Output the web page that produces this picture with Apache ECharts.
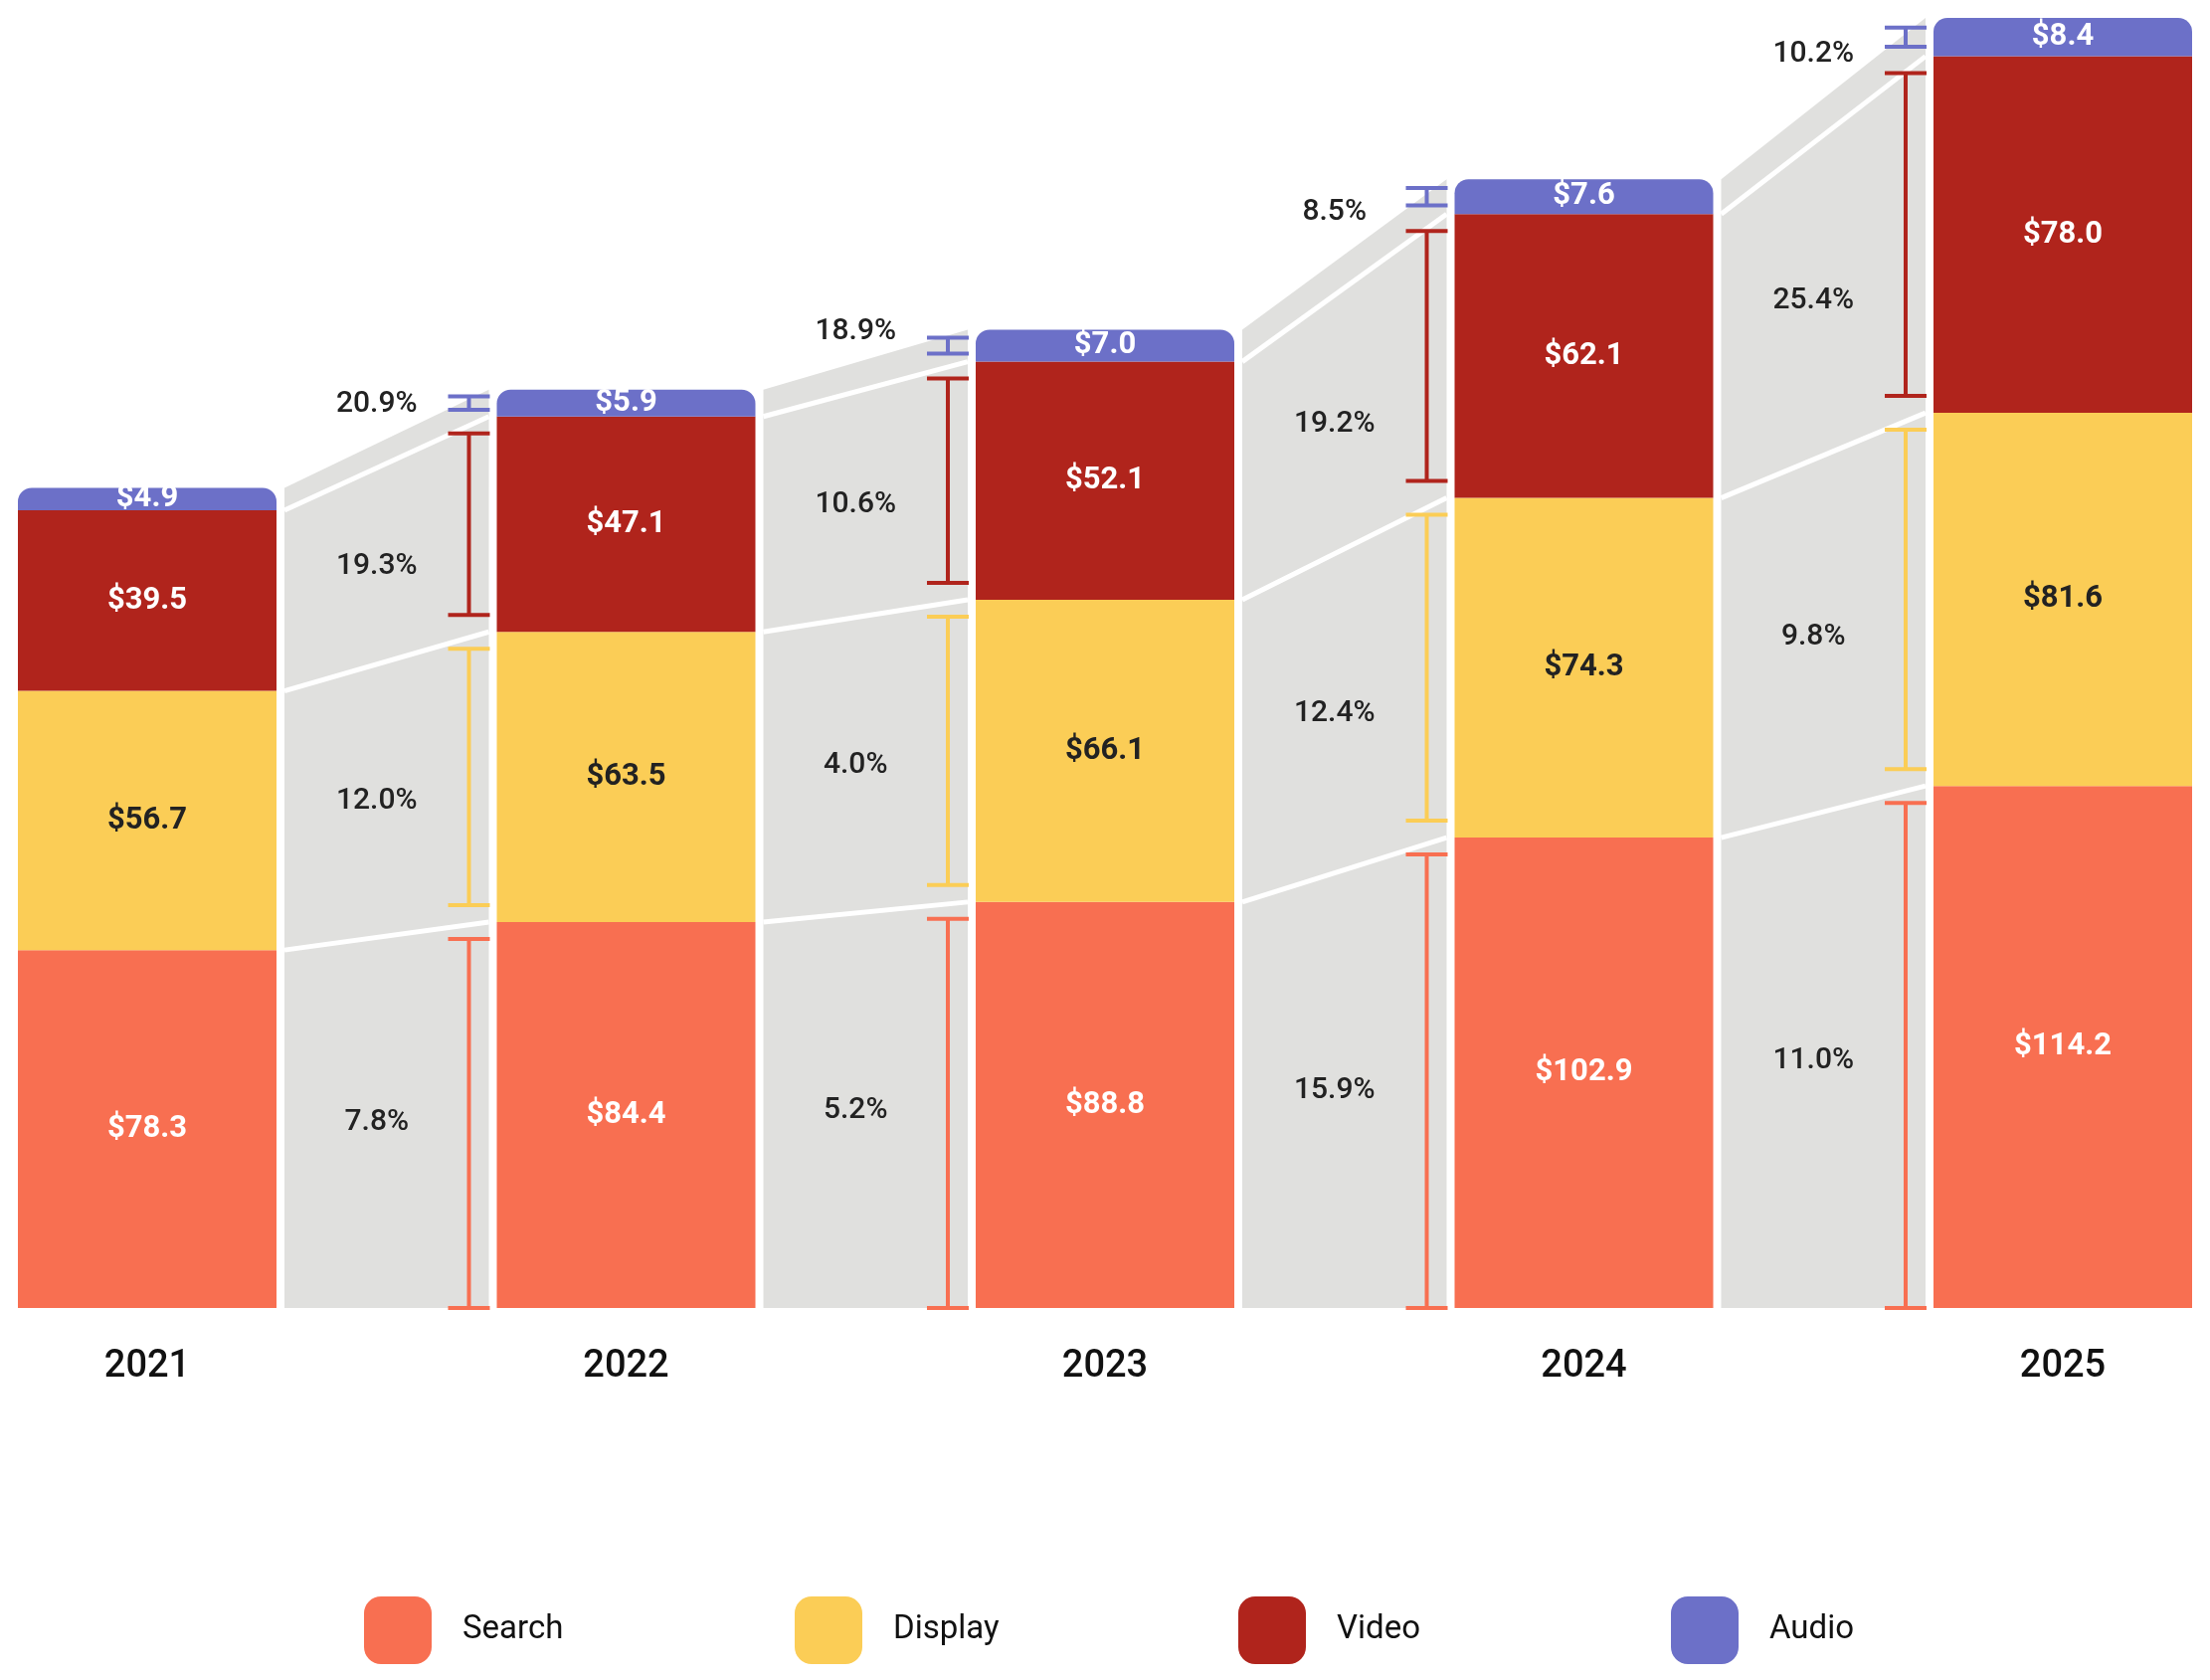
<!DOCTYPE html>
<html>
<head>
<meta charset="utf-8">
<script src="https://cdn.jsdelivr.net/npm/echarts@6/dist/echarts.min.js"></script>
<style>html,body{margin:0;padding:0;background:#fff;}#main{width:2222px;height:1689px;}</style>
</head>
<body>
<div id="main"></div>
<script>
// data
var years = ['2021', '2022', '2023', '2024', '2025'];
var names = ['Search', 'Display', 'Video', 'Audio'];
var search = [78.3, 84.4, 88.8, 102.9, 114.2];
var display = [56.7, 63.5, 66.1, 74.3, 81.6];
var video = [39.5, 47.1, 52.1, 62.1, 78.0];
var audio = [4.9, 5.9, 7.0, 7.6, 8.4];
var growthSearch = [7.8, 5.2, 15.9, 11.0];
var growthDisplay = [12.0, 4.0, 12.4, 9.8];
var growthVideo = [19.3, 10.6, 19.2, 25.4];
var growthAudio = [20.9, 18.9, 8.5, 10.2];

var colors = ['#f86f51', '#fbcd56', '#b0241c', '#6c70c8'];
var labelColors = ['#fff', '#222', '#fff', '#fff'];
var layers = [search, display, video, audio];
var growth = [growthSearch, growthDisplay, growthVideo, growthAudio];
var HALF = 0.27;

function base(layer, i) {
  var s = 0;
  for (var k = 0; k < layer; k++) s += layers[k][i];
  return s;
}

var chart = echarts.init(document.getElementById('main'));

// stacked bars drawn as custom rects
function barSeries(layer) {
  return {
    name: names[layer],
    type: 'custom',
    z: 3,
    itemStyle: { color: colors[layer] },
    data: layers[layer].map(function (v, i) { return [i, v]; }),
    renderItem: function (params, api) {
      var i = api.value(0);
      var b = base(layer, i);
      var p0 = api.coord([i - HALF, b]);
      var p1 = api.coord([i + HALF, b + api.value(1)]);
      var r = layer === 3 ? [14, 14, 0, 0] : 0;
      return {
        type: 'group',
        children: [{
          type: 'rect',
          shape: { x: p0[0], y: p1[1], width: p1[0] - p0[0], height: p0[1] - p1[1], r: r },
          style: { fill: colors[layer] }
        }, {
          type: 'text',
          style: {
            x: (p0[0] + p1[0]) / 2, y: (p0[1] + p1[1]) / 2,
            text: '$' + api.value(1).toFixed(1),
            fill: labelColors[layer], font: 'bold 31px Roboto',
            align: 'center', verticalAlign: 'middle'
          }
        }]
      };
    }
  };
}

// grey connectors, white boundary lines, growth brackets and labels
var connector = {
  type: 'custom',
  z: 1,
  silent: true,
  data: [0, 1, 2, 3],
  renderItem: function (params, api) {
    var i = api.value(0);
    var xl = api.coord([i + HALF, 0])[0] + 8;
    var xr = api.coord([i + 1 - HALF, 0])[0] - 8;
    var y0 = api.coord([0, 0])[1];
    var yAt = function (v) { return api.coord([0, v])[1]; };
    var children = [{
      type: 'polygon',
      shape: { points: [[xl, y0], [xl, yAt(base(4, i))], [xr, yAt(base(4, i + 1))], [xr, y0]] },
      style: { fill: '#e0e0de' }
    }];
    for (var k = 1; k < 4; k++) {
      children.push({
        type: 'line',
        shape: { x1: xl, y1: yAt(base(k, i)), x2: xr, y2: yAt(base(k, i + 1)) },
        style: { stroke: '#fff', lineWidth: 5 }
      });
    }
    var bx = api.coord([i + 1 - HALF, 0])[0] - 28;
    var lx = (xl + bx) / 2;
    for (var k = 0; k < 4; k++) {
      var yb = yAt(base(k, i + 1));
      var yt = yAt(base(k + 1, i + 1));
      var inset = Math.min(17, (yb - yt) * 0.25);
      var b1 = k === 0 ? yb : yb - inset;
      var t1 = yt + inset;
      var st = { stroke: colors[k], lineWidth: 4 };
      children.push(
        { type: 'line', shape: { x1: bx, y1: b1, x2: bx, y2: t1 }, style: st },
        { type: 'line', shape: { x1: bx - 21, y1: b1, x2: bx + 21, y2: b1 }, style: st },
        { type: 'line', shape: { x1: bx - 21, y1: t1, x2: bx + 21, y2: t1 }, style: st }
      );
      var ly, va;
      var f = (lx - xl) / (xr - xl);
      if (k < 3) {
        var lo = k === 0 ? y0 : yAt(base(k, i)) * (1 - f) + yAt(base(k, i + 1)) * f;
        var hi = yAt(base(k + 1, i)) * (1 - f) + yAt(base(k + 1, i + 1)) * f;
        ly = (lo + hi) / 2; va = 'middle';
      } else {
        var f2 = (lx + 42 - xl) / (xr - xl);
        ly = yAt(base(4, i)) * (1 - f2) + yAt(base(4, i + 1)) * f2 - 4; va = 'bottom';
      }
      children.push({
        type: 'text',
        style: {
          x: lx, y: ly, text: growth[k][i].toFixed(1) + '%',
          fill: '#222', font: '500 30px Roboto', align: 'center', verticalAlign: va
        }
      });
    }
    return { type: 'group', children: children };
  }
};

var legendLeft = [361, 794, 1240, 1675];
var option = {
  backgroundColor: '#fff',
  animation: false,
  grid: { left: 18, right: 18, top: 18, bottom: 374 },
  xAxis: {
    type: 'value', min: -HALF, max: 4 + HALF,
    axisLine: { show: false }, axisTick: { show: false }, splitLine: { show: false },
    axisLabel: {
      customValues: [0, 1, 2, 3, 4],
      formatter: function (v) { return years[Math.round(v)]; },
      margin: 40, color: '#111', fontSize: 38, fontWeight: 500, fontFamily: 'Roboto'
    }
  },
  yAxis: { type: 'value', min: 0, max: 282.2, show: false },
  legend: names.map(function (n, k) {
    return {
      data: [n], left: legendLeft[k], top: 1600,
      itemWidth: 68, itemHeight: 68, icon: 'roundRect',
      textStyle: { fontSize: 33, color: '#111', fontFamily: 'Roboto', padding: [0, 0, 0, 26] }
    };
  }),
  series: [connector, barSeries(0), barSeries(1), barSeries(2), barSeries(3)]
};

chart.setOption(option);
</script>
</body>
</html>
